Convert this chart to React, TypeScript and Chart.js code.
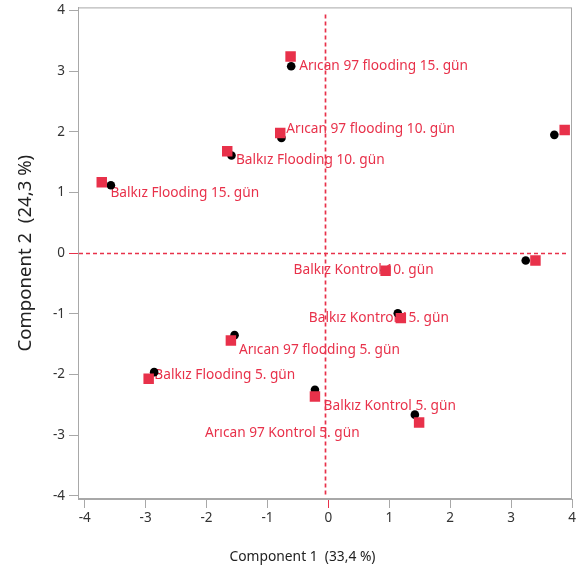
import React, { useEffect, useRef } from "react";
import { Chart, registerables } from "chart.js";

Chart.register(...registerables);

// ---- data ----
const pointNames = [
  "Arıcan 97 flooding 15. gün",
  "Arıcan 97 flooding 10. gün",
  "Balkız Flooding 10. gün",
  "Balkız Flooding 15. gün",
  "Arıcan 97 Kontrol 15. gün",
  "Arıcan 97 Kontrol 10. gün",
  "Balkız Kontrol 10. gün",
  "Balkız Kontrol 15. gün",
  "Arıcan 97 flooding 5. gün",
  "Balkız Flooding 5. gün",
  "Arıcan 97 Kontrol 5. gün",
  "Balkız Kontrol 5. gün",
];
const squareX = [-0.62, -0.79, -1.66, -3.72, 3.88, 3.4, 0.94, 1.19, -1.6, -2.95, -0.22, 1.49];
const squareY = [3.24, 1.98, 1.68, 1.17, 2.03, -0.12, -0.29, -1.07, -1.44, -2.07, -2.36, -2.79];
const circleX = [-0.61, -0.77, -1.59, -3.57, 3.71, 3.24, 0.93, 1.14, -1.54, -2.86, -0.22, 1.42];
const circleY = [3.08, 1.9, 1.61, 1.12, 1.95, -0.12, -0.28, -0.99, -1.35, -1.96, -2.25, -2.66];
const xTickValues = [-4, -3, -2, -1, 0, 1, 2, 3, 4];
const yTickValues = [-4, -3, -2, -1, 0, 1, 2, 3, 4];
const xTitle = "Component 1  (33,4 %)";
const yTitle = "Component 2  (24,3 %)";
const refLineX = -0.05;
const refLineY = 0;

// ---- layout / style ----
const labelOffsets: ([number, number] | null)[] = [
  [8.6, 10], [6, -4.3], [8.7, 9], [8.7, 11], null, null,
  [-92, -0.7], [-92, 0], [8, 9.3], [5.7, -3.7], [-110, 36.7], [-95.5, -16.3],
];
const RED = "#E8314A";
const GRAY = "#A8A8A8";
const FONT = "'Noto Sans', 'Open Sans', sans-serif";
const W = 580;
const H = 568;

const overlay = {
  id: "overlay",
  beforeDatasetsDraw(chart: any) {
    const { ctx, chartArea: a, scales } = chart;
    const xs = scales.x;
    const ys = scales.y;
    ctx.save();
    // frame
    ctx.strokeStyle = GRAY;
    ctx.lineWidth = 1;
    ctx.strokeRect(a.left + 0.5, a.top + 0.5, a.right - a.left - 1, a.bottom - a.top - 1);
    // labels
    ctx.beginPath();
    ctx.rect(a.left, a.top, a.right - a.left, a.bottom - a.top);
    ctx.clip();
    ctx.fillStyle = RED;
    ctx.font = `13.7px ${FONT}`;
    ctx.textAlign = "left";
    ctx.textBaseline = "middle";
    pointNames.forEach((name, i) => {
      const off = labelOffsets[i];
      if (!off) return;
      const px = xs.getPixelForValue(squareX[i]);
      const py = ys.getPixelForValue(squareY[i]);
      ctx.fillText(name, px + off[0], py + off[1]);
    });
    // dashed reference lines
    ctx.strokeStyle = RED;
    ctx.lineWidth = 1.7;
    ctx.setLineDash([4, 3]);
    const rx = Math.round(xs.getPixelForValue(refLineX)) + 0.5;
    const ry = Math.round(ys.getPixelForValue(refLineY)) + 0.5;
    ctx.beginPath();
    ctx.moveTo(rx, a.top + 7);
    ctx.lineTo(rx, a.bottom - 4);
    ctx.moveTo(a.left + 1, ry);
    ctx.lineTo(a.right - 5, ry);
    ctx.stroke();
    ctx.restore();

    // axis titles
    ctx.save();
    ctx.fillStyle = "#222";
    ctx.textAlign = "center";
    ctx.textBaseline = "middle";
    ctx.font = `13.8px ${FONT}`;
    ctx.fillText(xTitle, 302.5, 557);
    ctx.translate(25.5, (a.top + a.bottom) / 2);
    ctx.rotate(-Math.PI / 2);
    ctx.font = `18.6px ${FONT}`;
    ctx.fillText(yTitle, 0, 0);
    ctx.restore();
  },
};

export default function App() {
  const ref = useRef<HTMLCanvasElement | null>(null);
  useEffect(() => {
    if (!ref.current) return;
    const tickColor = (c: any) => (c.tick && c.tick.value === 0 ? RED : GRAY);
    const chart = new Chart(ref.current, {
      type: "scatter",
      data: {
        datasets: [
          {
            label: "squares",
            data: squareX.map((x, i) => ({ x, y: squareY[i] })),
            pointStyle: "rect",
            pointRadius: 7.4,
            pointHoverRadius: 7.4,
            backgroundColor: RED,
            borderColor: RED,
            borderWidth: 0,
          },
          {
            label: "circles",
            data: circleX.map((x, i) => ({ x, y: circleY[i] })),
            pointStyle: "circle",
            pointRadius: 4.3,
            pointHoverRadius: 4.3,
            backgroundColor: "#000",
            borderColor: "#000",
            borderWidth: 0,
          },
        ],
      },
      options: {
        responsive: false,
        animation: false,
        devicePixelRatio: 1,
        layout: { padding: { left: 0, top: 5, right: 8, bottom: 0 } },
        plugins: { legend: { display: false }, tooltip: { enabled: false } },
        events: [],
        scales: {
          x: {
            type: "linear",
            min: -4.11,
            max: 4,
            afterFit: (s: any) => {
              s.height = 69;
              s.paddingLeft = 0;
              s.paddingRight = 0;
            },
            afterBuildTicks: (s: any) => {
              s.ticks = xTickValues.map((v) => ({ value: v }));
            },
            ticks: {
              includeBounds: false,
              autoSkip: false,
              maxRotation: 0,
              padding: 2,
              color: "#333",
              font: { family: FONT, size: 13.5 },
            },
            grid: { drawOnChartArea: false, drawTicks: true, tickLength: 9, tickColor, tickWidth: 1 },
            border: { display: true, color: GRAY, width: 1 },
          },
          y: {
            type: "linear",
            min: -4.05,
            max: 4.05,
            afterFit: (s: any) => {
              s.width = 78;
              s.paddingTop = 0;
              s.paddingBottom = 0;
            },
            afterBuildTicks: (s: any) => {
              s.ticks = yTickValues.map((v) => ({ value: v }));
            },
            ticks: {
              includeBounds: false,
              autoSkip: false,
              padding: 4,
              color: "#333",
              font: { family: FONT, size: 13.5 },
            },
            grid: { drawOnChartArea: false, drawTicks: true, tickLength: 9, tickColor, tickWidth: 1 },
            border: { display: true, color: GRAY, width: 1 },
          },
        },
      },
      plugins: [overlay],
    } as any);
    return () => chart.destroy();
  }, []);
  return (
    <div style={{ position: "fixed", left: 0, top: 0, width: W, height: H, background: "#fff" }}>
      <canvas ref={ref} width={W} height={H} style={{ width: W, height: H, display: "block" }} />
    </div>
  );
}
